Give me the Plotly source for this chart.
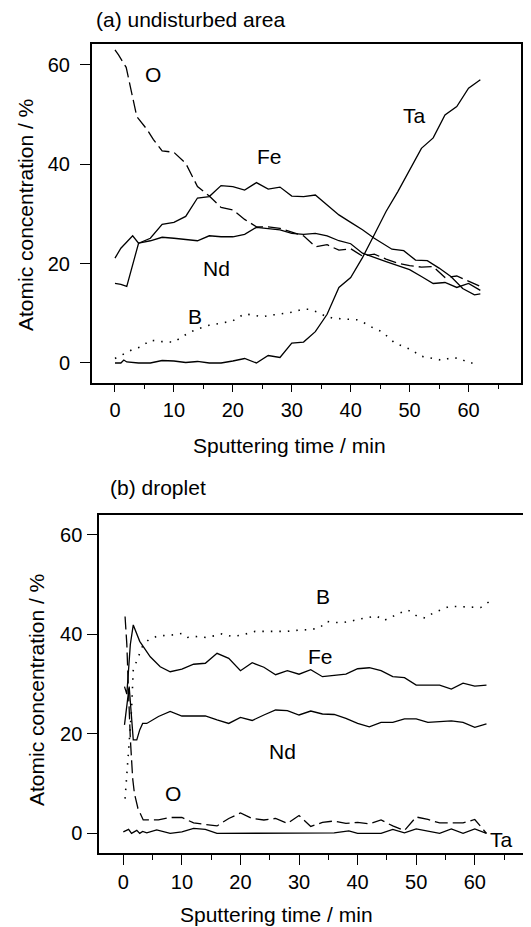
import plotly.graph_objects as go

# ---------------- (a) undisturbed area ----------------
t_fe_a = [0, 1, 3, 4, 6, 8, 10, 12, 14, 16, 18, 20, 22, 24, 26, 28, 30, 32, 34, 36, 38, 40,
          42, 44, 46, 47, 49, 51, 53, 55, 57, 59, 61, 62]
fe_a = [21.1, 23.1, 25.6, 24.1, 25.1, 27.9, 28.3, 29.5, 33.2, 33.5, 35.7, 35.5, 34.8, 36.3,
        35.0, 35.4, 33.6, 33.5, 33.8, 31.8, 29.8, 28.3, 26.8, 25.1, 23.6, 22.9, 22.6, 20.7,
        20.6, 19.1, 17.4, 15.0, 13.7, 13.9]

t_nd_a = [0, 1, 2, 4, 6, 8, 10, 12, 14, 16, 18, 20, 22, 24, 26, 28, 30, 32, 34, 36, 38, 40,
          42, 44, 46, 48, 50, 52, 54, 56, 58, 60, 62]
nd_a = [16.0, 15.8, 15.4, 24.1, 24.6, 25.3, 25.1, 24.9, 24.6, 25.6, 25.4, 25.4, 25.9, 27.3,
        27.1, 26.8, 26.1, 25.9, 26.1, 25.6, 24.6, 24.0, 22.1, 21.2, 20.4, 19.6, 18.8, 17.4,
        16.0, 16.2, 15.2, 16.0, 14.6]

t_o_a = [0, 0.6, 1.9, 3.1, 3.7, 5.5, 6.5, 8, 10, 12, 14, 16, 18, 20, 22, 24, 26, 28, 30, 32,
         34, 36, 38, 40, 42, 44, 46, 48, 50, 52, 54, 56, 58, 60, 62]
o_a = [63.0, 62.0, 59.5, 53.0, 49.6, 46.9, 45.0, 42.7, 42.4, 40.2, 35.5, 33.6, 31.3, 30.8,
       28.9, 27.4, 27.4, 27.1, 26.4, 25.6, 23.4, 23.8, 22.7, 23.0, 21.5, 21.9, 20.9, 20.1,
       19.6, 19.3, 19.4, 17.2, 17.5, 16.5, 15.4]

t_ta_a = [0, 1, 1.5, 2, 4, 6, 8, 10, 12, 14, 16, 18, 20, 22, 24, 26, 28, 30, 32, 34, 36, 38,
          40, 42, 44, 46, 48, 50, 52, 54, 56, 58, 60, 62]
ta_a = [0, 0, 0.6, 0.2, 0, 0, 0.5, 0.4, 0.1, 0.3, 0, 0, 0.4, 0.9, 0, 1.5, 1.1, 4.0, 4.2, 6.3,
        9.8, 15.2, 17.2, 21.2, 25.8, 30.5, 34.5, 39.0, 43.2, 45.3, 49.9, 51.6, 55.3, 57.0]

t_b_a = [0, 2.8, 4.5, 6, 8, 10, 11.3, 12.7, 14.4, 16, 18, 20, 22, 25, 27, 29, 30.5, 31.7,
         32.8, 34.2, 35.6, 37, 39, 41, 42.4, 43.9, 45.3, 47.5, 49, 50.4, 51.8, 54, 55.7,
         57.1, 58.6, 60, 61.4]
b_a = [0.9, 2.6, 3.3, 4.6, 4.3, 4.2, 5.2, 6.2, 7.0, 7.6, 8.0, 8.5, 9.9, 9.3, 9.7, 10.1, 10.3,
       10.8, 10.8, 10.3, 9.5, 9.0, 8.8, 8.7, 8.0, 7.0, 6.3, 4.0, 3.3, 2.6, 1.4, 0.9, 0.5, 1.1,
       0.9, 0.0, 0.0]

# ---------------- (b) droplet ----------------
t_fe_b = [0.2, 0.6, 1.2, 1.7, 2.8, 4.6, 6.3, 8, 10, 12, 14, 16, 18, 20, 22, 24, 26, 28, 30,
          32, 34, 36, 38, 40, 42, 44, 46, 48, 50, 52, 54, 56, 58, 60, 62]
fe_b = [29.5, 28.0, 38.0, 41.9, 38.6, 35.5, 33.5, 32.5, 33.0, 34.0, 34.2, 36.2, 35.2, 32.7,
        34.3, 33.4, 31.9, 32.7, 32.0, 32.9, 31.5, 31.7, 32.0, 33.1, 33.3, 32.7, 31.5, 31.3,
        29.8, 29.8, 29.8, 29.0, 30.2, 29.6, 29.8]

t_nd_b = [0.2, 1.0, 1.7, 2.3, 2.8, 3.3, 4, 6, 8, 10, 12, 14, 16, 18, 20, 22, 24, 26, 28, 30,
          32, 34, 36, 38, 40, 42, 44, 46, 48, 50, 52, 54, 56, 58, 60, 62]
nd_b = [21.8, 29.5, 18.8, 18.8, 20.8, 22.1, 22.1, 23.5, 24.5, 23.6, 23.6, 23.6, 22.8, 22.1,
        23.3, 22.7, 23.8, 24.8, 24.7, 23.8, 24.6, 24.0, 23.9, 23.1, 22.1, 21.4, 22.3, 22.3,
        23.0, 23.0, 22.3, 22.5, 22.6, 22.3, 21.3, 22.0]

t_o_b = [0.3, 0.6, 0.9, 1.2, 1.6, 1.9, 2.5, 3.4, 4, 6, 8, 10, 12, 14, 16, 18, 20, 22, 24, 26,
         28, 30, 32, 34, 36, 38, 40, 42, 44, 46, 48, 50, 52, 54, 56, 58, 60, 62]
o_b = [43.6, 38.0, 28.0, 19.0, 11.0, 8.0, 5.0, 2.7, 2.7, 2.7, 3.2, 3.2, 2.1, 1.8, 1.5, 3.0,
       4.1, 3.0, 2.7, 3.0, 2.0, 3.6, 1.4, 2.2, 2.5, 2.0, 2.2, 1.9, 2.7, 1.5, 0.6, 3.3, 2.8,
       2.1, 2.1, 2.1, 2.8, 0.0]

t_ta_b = [0, 0.5, 0.9, 1.4, 1.9, 2.3, 2.8, 3.3, 4, 5.7, 8, 10, 12, 14, 16, 18, 20, 22, 24, 26,
          28, 30, 32, 34, 36, 38.5, 40, 42, 44, 46, 48, 50, 52, 54, 56, 58, 60, 62]
ta_b = [0.3, 0.6, 0.8, 0, 0.3, 0.6, 0, 0.4, 0.1, 0.7, 0, 0.3, 1.0, 0.8, 0, 0, 0.1, 0, 0, 0, 0,
        0, 0, 0, 0.1, 0.5, 0, 0, 0, 0.8, 0.1, 0.9, 0.4, 0, 0.9, 0, 0.9, 0]

t_b_b = [0.3, 0.5, 0.85, 1.1, 1.4, 1.7, 2.2, 2.7, 3.3, 4.3, 5.7, 7.1, 8.5, 10, 11, 12.8, 14,
         15.5, 16.8, 18.5, 20, 21.3, 22.5, 24, 25.5, 27.9, 29.3, 30.7, 32.2, 33.6, 34.7, 36,
         37.6, 39, 40.4, 43.2, 44.5, 45.8, 47.2, 48.6, 50.1, 51.5, 52.9, 54.2, 55.6, 57, 59.7,
         61, 62.5]
b_b = [7.0, 10.4, 15.1, 19.4, 24.8, 32.9, 34.5, 36.2, 37.7, 38.9, 39.6, 39.8, 39.9, 40.2, 39.4,
       39.6, 39.4, 39.7, 40.1, 39.6, 39.8, 40.2, 40.6, 40.6, 40.6, 40.6, 40.8, 40.9, 41.0, 41.4,
       42.6, 42.4, 42.4, 42.7, 43.1, 43.7, 42.8, 43.5, 44.3, 44.9, 43.7, 43.3, 44.3, 44.9, 45.6,
       45.6, 45.5, 45.4, 46.6]

y_ticks = [0, 20, 40, 60]
x_ticks = [0, 10, 20, 30, 40, 50, 60]

# series labels: (text, t, value)
labels_a = [("O", 6.5, 58.0), ("Ta", 50.9, 49.9), ("Fe", 26.3, 41.5), ("Nd", 17.3, 19.1), ("B", 13.6, 9.3)]
labels_b = [("B", 34.1, 47.6), ("Fe", 33.6, 35.5), ("Nd", 27.2, 16.4), ("O", 8.4, 8.0), ("Ta", 64.6, -1.2)]

FONT = "Liberation Sans, Arial, Helvetica, sans-serif"
W, H = 531, 927
OFF = 8  # page body margin of the html page
SOLID = dict(color="black", width=1.3)
DASH = dict(color="black", width=1.3, dash="13px,5px")
DOT = dict(color="black", width=1.6, dash="1.5px,7px")

fig = go.Figure()


def add(t, v, line, xa, ya, name):
    fig.add_trace(go.Scatter(x=t, y=v, mode="lines", line=line, xaxis=xa, yaxis=ya,
                             name=name, showlegend=False, hoverinfo="skip"))


add(t_o_a, o_a, DASH, "x", "y", "O")
add(t_b_a, b_a, DOT, "x", "y", "B")
add(t_nd_a, nd_a, SOLID, "x", "y", "Nd")
add(t_fe_a, fe_a, SOLID, "x", "y", "Fe")
add(t_ta_a, ta_a, SOLID, "x", "y", "Ta")

add(t_o_b, o_b, DASH, "x2", "y2", "O")
add(t_b_b, b_b, DOT, "x2", "y2", "B")
add(t_nd_b, nd_b, SOLID, "x2", "y2", "Nd")
add(t_fe_b, fe_b, SOLID, "x2", "y2", "Fe")
add(t_ta_b, ta_b, SOLID, "x2", "y2", "Ta")


def px_x(p):
    return (p - OFF) / W


def px_y(p):
    return 1 - (p - OFF) / H


tickfont = dict(family=FONT, size=20, color="black")
common_x = dict(showgrid=False, zeroline=False, showline=True, linecolor="black", linewidth=2,
                ticks="outside", tickcolor="black", tickwidth=1, tickvals=x_ticks,
                tickfont=tickfont, fixedrange=True)
common_y = dict(showgrid=False, zeroline=False, showline=True, linecolor="black", linewidth=2,
                ticks="outside", tickcolor="black", tickwidth=1, tickvals=y_ticks,
                ticklen=10, tickfont=tickfont, fixedrange=True)

fig.update_layout(
    width=W, height=H, margin=dict(l=0, r=0, t=0, b=0),
    paper_bgcolor="white", plot_bgcolor="white",
    font=dict(family=FONT, size=21, color="black"),
    xaxis=dict(common_x, domain=[px_x(92), px_x(521)], range=[-3.9, 68.9], anchor="y",
               mirror=True, ticklen=7, ticklabelstandoff=1,
               minor=dict(dtick=5, tick0=0, ticks="outside", ticklen=4, tickcolor="black", tickwidth=1)),
    yaxis=dict(common_y, domain=[px_y(382.7), px_y(43.5)], range=[-3.97, 64.3], anchor="x",
               mirror=True, ticklabelstandoff=6),
    xaxis2=dict(common_x, domain=[px_x(99.3), px_x(531)], range=[-4.1, 69.6], anchor="y2",
                mirror=True, ticklen=10, ticklabelstandoff=0,
                minor=dict(dtick=5, tick0=0, ticks="outside", ticklen=5, tickcolor="black", tickwidth=1)),
    yaxis2=dict(common_y, domain=[px_y(853.3), px_y(515)], range=[-4.0, 64.0], anchor="x2",
                mirror=False, ticklabelstandoff=1),
)

ann = []
for txt, t, v in labels_a:
    ann.append(dict(text=txt, x=t, y=v, xref="x", yref="y", showarrow=False,
                    font=dict(size=21)))
for txt, t, v in labels_b:
    ann.append(dict(text=txt, x=t, y=v, xref="x2", yref="y2", showarrow=False,
                    font=dict(size=21)))

# panel titles and axis titles
ann += [
    dict(text="(a) undisturbed area", x=px_x(94), y=px_y(19), xref="paper", yref="paper",
         xanchor="left", yanchor="middle", showarrow=False, font=dict(size=21)),
    dict(text="(b) droplet", x=px_x(108), y=px_y(488), xref="paper", yref="paper",
         xanchor="left", yanchor="middle", showarrow=False, font=dict(size=21)),
    dict(text="Sputtering time / min", x=px_x(289), y=px_y(446), xref="paper", yref="paper",
         xanchor="center", yanchor="middle", showarrow=False, font=dict(size=21)),
    dict(text="Sputtering time / min", x=px_x(276), y=px_y(914), xref="paper", yref="paper",
         xanchor="center", yanchor="middle", showarrow=False, font=dict(size=21)),
    dict(text="Atomic concentration / %", x=px_x(25), y=px_y(215), xref="paper", yref="paper",
         xanchor="center", yanchor="middle", textangle=-90, showarrow=False, font=dict(size=21)),
    dict(text="Atomic concentration / %", x=px_x(36), y=px_y(690), xref="paper", yref="paper",
         xanchor="center", yanchor="middle", textangle=-90, showarrow=False, font=dict(size=21)),
]
fig.update_layout(annotations=ann)

fig.write_html("out.html", config={"displayModeBar": False})
